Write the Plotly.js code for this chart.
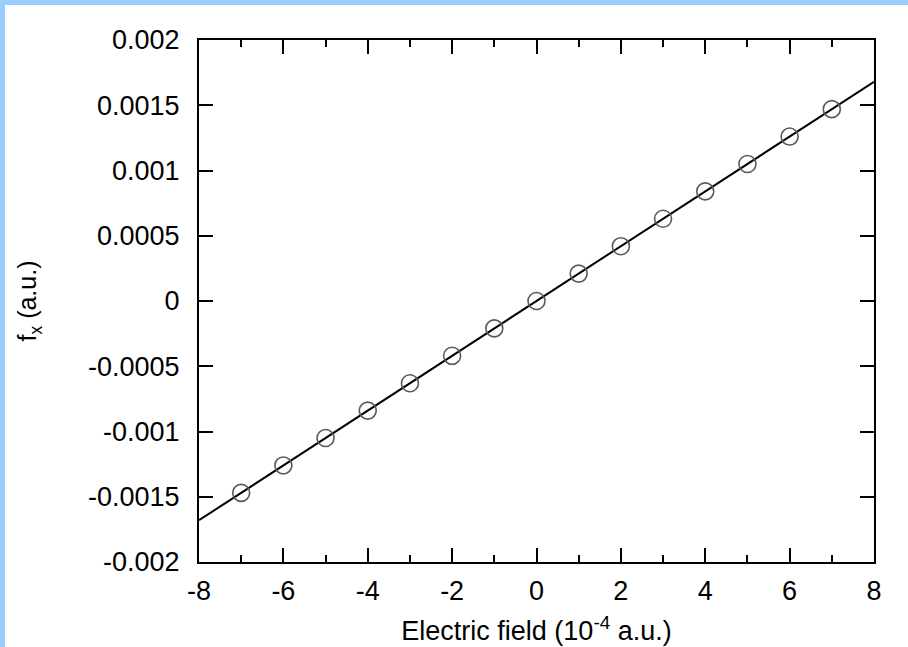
<!DOCTYPE html>
<html>
<head>
<meta charset="utf-8">
<script src="https://cdn.plot.ly/plotly-3.0.1.min.js"></script>
<style>
  html, body { margin: 0; padding: 0; background: #99ccff; width: 908px; height: 647px; overflow: hidden; }
  #chart { position: absolute; left: 5px; top: 5px; width: 903px; height: 642px; background: #ffffff; }
</style>
</head>
<body>
<div id="chart"></div>
<script>
// Data
const fieldPoints = [-7, -6, -5, -4, -3, -2, -1, 0, 1, 2, 3, 4, 5, 6, 7];
const fxPoints = [-0.00147, -0.00126, -0.00105, -0.00084, -0.00063, -0.00042, -0.00021, 0,
                  0.00021, 0.00042, 0.00063, 0.00084, 0.00105, 0.00126, 0.00147];
const fitX = [-8, 8];
const fitY = [-0.00168, 0.00168];

const xTickVals = [-8, -6, -4, -2, 0, 2, 4, 6, 8];
const xTickText = ["-8", "-6", "-4", "-2", "0", "2", "4", "6", "8"];
const yTickVals = [-0.002, -0.0015, -0.001, -0.0005, 0, 0.0005, 0.001, 0.0015, 0.002];
const yTickText = ["-0.002", "-0.0015", "-0.001", "-0.0005", "0", "0.0005", "0.001", "0.0015", "0.002"];

const fontFam = '"Liberation Sans", Arial, Helvetica, sans-serif';

const traces = [
  {
    x: fitX, y: fitY, type: 'scatter', mode: 'lines',
    line: { color: '#000000', width: 2 },
    hoverinfo: 'skip', showlegend: false
  },
  {
    x: fieldPoints, y: fxPoints, type: 'scatter', mode: 'markers',
    marker: { symbol: 'circle-open', size: 17, color: '#5a5a5a', line: { width: 1.6, color: '#5a5a5a' } },
    showlegend: false
  }
];

const axisCommon = {
  showgrid: false, zeroline: false,
  showline: true, linecolor: '#000000', linewidth: 2,
  mirror: 'allticks',
  ticks: 'inside', ticklen: 14, tickwidth: 2, tickcolor: '#000000',
  tickfont: { family: fontFam, size: 27, color: '#000000' }
};

const layout = {
  width: 903, height: 642,
  paper_bgcolor: '#ffffff', plot_bgcolor: '#ffffff',
  margin: { l: 194, r: 34, t: 35, b: 85 },
  font: { family: fontFam, color: '#000000' },
  xaxis: Object.assign({}, axisCommon, {
    range: [-8, 8],
    tickmode: 'array', tickvals: xTickVals, ticktext: xTickText,
    minor: { dtick: 1, tick0: -7, ticks: 'inside', ticklen: 7, tickwidth: 2, tickcolor: '#000000', showgrid: false },
    ticklabelstandoff: 4,
    title: { text: 'Electric field (10<sup>-4</sup> a.u.)', font: { family: fontFam, size: 27, color: '#000000' }, standoff: 16 }
  }),
  yaxis: Object.assign({}, axisCommon, {
    range: [-0.002, 0.002],
    tickmode: 'array', tickvals: yTickVals, ticktext: yTickText,
    ticklabelstandoff: 12,
    title: { text: 'f<sub>x</sub> (a.u.)', font: { family: fontFam, size: 25, color: '#000000' }, standoff: 44 }
  })
};

Plotly.newPlot('chart', traces, layout, { displayModeBar: false, staticPlot: true });
</script>
</body>
</html>
